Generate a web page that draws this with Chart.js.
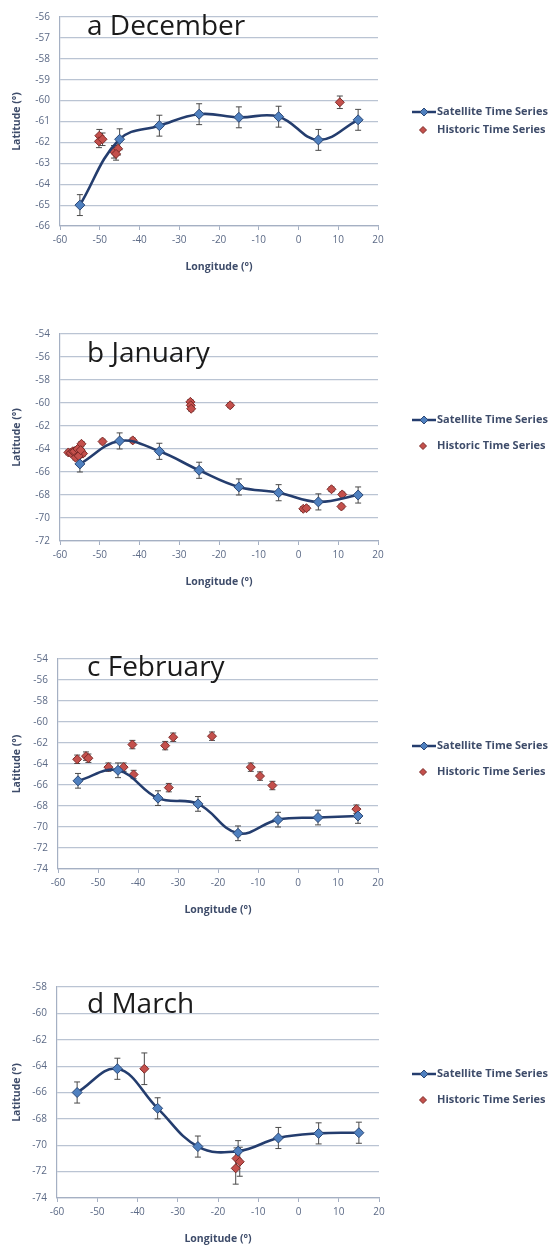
<!DOCTYPE html>
<html>
<head>
<meta charset="utf-8">
<script src="https://cdn.jsdelivr.net/npm/chart.js@4.4.1/dist/chart.umd.min.js"></script>
<style>
    html, body { margin: 0; padding: 0; background: #fff; overflow: hidden; }
    .panel { position: absolute; left: 0; width: 552px; }
</style>
</head>
<body>
<div class="panel" style="top:0px"><canvas id="decChart" width="552" height="276"></canvas></div>
<div class="panel" style="top:317px"><canvas id="janChart" width="552" height="274"></canvas></div>
<div class="panel" style="top:642px"><canvas id="febChart" width="552" height="277"></canvas></div>
<div class="panel" style="top:970px"><canvas id="marChart" width="552" height="278"></canvas></div>
<script>
// satellite longitudes are the same for every month
const satLon = [-55, -45, -35, -25, -15, -5, 5, 15];

// a December
const decSatLat = [-65.0, -61.85, -61.2, -60.65, -60.8, -60.77, -61.88, -60.92];
const decSatErr = [0.5, 0.5, 0.5, 0.5, 0.5, 0.5, 0.5, 0.5];
const decHistLon = [-50.1, -50.2, -49.3, -46.4, -45.4, -45.9, 10.4];
const decHistLat = [-61.68, -61.95, -61.85, -62.45, -62.3, -62.55, -60.08];
const decHistErr = [0.3, 0.3, 0.3, 0.3, 0.3, 0.3, 0.3];

// b January
const janSatLat = [-65.3, -63.3, -64.2, -65.85, -67.3, -67.8, -68.6, -68.0];
const janSatErr = [0.7, 0.7, 0.7, 0.7, 0.7, 0.7, 0.7, 0.7];
const janHistLon = [-57.9, -57.3, -56.8, -56.4, -55.6, -55.0, -54.6, -54.2, -56.1, -55.3, -54.8,
    -49.3, -41.7, -27.2, -27.1, -27.0, -17.2, 1.2, 2.0, 8.3, 11.0, 10.8];
const janHistLat = [-64.3, -64.35, -64.2, -64.2, -64.0, -64.5, -63.55, -64.4, -64.75, -64.6, -64.1,
    -63.35, -63.25, -59.9, -60.2, -60.5, -60.2, -69.2, -69.15, -67.5, -67.95, -69.0];
const janHistErr = janHistLon.map(() => 0.2);

// c February
const febSatLat = [-65.6, -64.6, -67.25, -67.8, -70.6, -69.3, -69.1, -68.95];
const febSatErr = [0.7, 0.7, 0.7, 0.7, 0.7, 0.7, 0.7, 0.7];
const febHistLon = [-55.2, -53.0, -52.4, -47.4, -43.6, -41.4, -41.1, -33.2, -31.2, -32.3, -21.5, -11.8, -9.5, -6.4, 14.6];
const febHistLat = [-63.55, -63.25, -63.45, -64.3, -64.3, -62.15, -65.0, -62.25, -61.45, -66.25, -61.35, -64.3, -65.15, -66.05, -68.3];
const febHistErr = febHistLon.map(() => 0.4);

// d March
const marSatLat = [-66.0, -64.2, -67.2, -70.1, -70.45, -69.45, -69.1, -69.05];
const marSatErr = [0.8, 0.8, 0.8, 0.8, 0.8, 0.8, 0.8, 0.8];
const marHistLon = [-38.3, -15.4, -14.6, -15.6];
const marHistLat = [-64.2, -71.0, -71.25, -71.75];
const marHistErr = [1.2, 0.8, 1.1, 1.2];

const lonTicks = { min: -60, max: 20, step: 10 };

Chart.defaults.font.family = '"Open Sans", sans-serif';

const tickColor = '#5c6a86';
const titleColor = '#3e4c6a';
const gridColor = '#bac4d3';
const axisColor = '#a5b0c3';

// vertical error bars, drawn under the markers
const errorBars = {
    id: 'errorBars',
    beforeDatasetsDraw(chart) {
        const { ctx, scales: { x, y } } = chart;
        ctx.save();
        ctx.strokeStyle = '#4a4a4a';
        ctx.lineWidth = 1;
        chart.data.datasets.forEach(ds => {
            if (!ds.errors) return;
            ds.data.forEach((p, i) => {
                const px = x.getPixelForValue(p.x);
                const top = y.getPixelForValue(p.y + ds.errors[i]);
                const bot = y.getPixelForValue(p.y - ds.errors[i]);
                ctx.beginPath();
                ctx.moveTo(px, top); ctx.lineTo(px, bot);
                ctx.moveTo(px - 3, top); ctx.lineTo(px + 3, top);
                ctx.moveTo(px - 3, bot); ctx.lineTo(px + 3, bot);
                ctx.stroke();
            });
        });
        ctx.restore();
    }
};

function diamond(ctx, cx, cy, r) {
    ctx.beginPath();
    ctx.moveTo(cx - r, cy);
    ctx.lineTo(cx, cy - r);
    ctx.lineTo(cx + r, cy);
    ctx.lineTo(cx, cy + r);
    ctx.closePath();
    ctx.fill();
    ctx.stroke();
}

// legend at the right side of each panel
const sideLegend = {
    id: 'sideLegend',
    afterDraw(chart, args, opts) {
        const ctx = chart.ctx;
        const [sat, hist] = chart.data.datasets;
        const [r1, r2] = opts.rows;
        ctx.save();
        ctx.strokeStyle = sat.borderColor;
        ctx.lineWidth = 2.5;
        ctx.beginPath();
        ctx.moveTo(412, r1); ctx.lineTo(436, r1);
        ctx.stroke();
        ctx.lineWidth = 1;
        ctx.fillStyle = sat.pointBackgroundColor;
        ctx.strokeStyle = sat.pointBorderColor;
        diamond(ctx, 424, r1, 4);
        ctx.fillStyle = hist.pointBackgroundColor;
        ctx.strokeStyle = hist.pointBorderColor;
        diamond(ctx, 423, r2, 3.5);
        ctx.font = 'bold 11px "Open Sans"';
        ctx.fillStyle = titleColor;
        ctx.textBaseline = 'middle';
        ctx.fillText(sat.label, 437, r1);
        ctx.fillText(hist.label, 437, r2);
        ctx.restore();
    }
};

// month label inside the plot
const panelTitle = {
    id: 'panelTitle',
    afterDraw(chart, args, opts) {
        const ctx = chart.ctx;
        ctx.save();
        ctx.font = '28px "Open Sans"';
        ctx.fillStyle = '#1b1b1b';
        ctx.textBaseline = 'alphabetic';
        ctx.fillText(opts.text, 87, opts.y);
        ctx.restore();
    }
};

function buildChart(canvasId, p) {
    const sat = satLon.map((lon, i) => ({ x: lon, y: p.satLat[i] }));
    const hist = p.histLon.map((lon, i) => ({ x: lon, y: p.histLat[i] }));

    return new Chart(document.getElementById(canvasId), {
        type: 'scatter',
        data: {
            datasets: [{
                label: 'Satellite Time Series',
                data: sat,
                errors: p.satErr,
                showLine: true,
                tension: 0.4,
                borderColor: '#243d6e',
                borderWidth: 2.6,
                pointStyle: 'rectRot',
                pointRadius: 5,
                pointBackgroundColor: '#4f80bf',
                pointBorderColor: '#2c4876',
                pointBorderWidth: 1
            }, {
                label: 'Historic Time Series',
                data: hist,
                errors: p.histErr,
                pointStyle: 'rectRot',
                pointRadius: 4.5,
                pointBackgroundColor: '#c4504c',
                pointBorderColor: '#7d2b29',
                pointBorderWidth: 1
            }]
        },
        options: {
            responsive: false,
            animation: false,
            layout: { padding: { left: 0, right: p.padRight, top: 17, bottom: 0 } },
            plugins: {
                legend: { display: false },
                tooltip: { enabled: false },
                sideLegend: { rows: p.legendRows },
                panelTitle: { text: p.title, y: p.titleY }
            },
            scales: {
                x: {
                    min: lonTicks.min,
                    max: lonTicks.max,
                    ticks: { stepSize: lonTicks.step, padding: 4, color: tickColor, font: { size: 10 } },
                    grid: { drawOnChartArea: false, drawTicks: true, tickLength: 4, color: axisColor },
                    border: { color: axisColor, width: 1.2 },
                    title: {
                        display: true, text: 'Longitude (°)', color: titleColor,
                        font: { size: 10.5, weight: 'bold' }, padding: { top: 0, bottom: 3 }
                    },
                    afterFit(s) { s.height = 50; }
                },
                y: {
                    min: p.yMin,
                    max: p.yMax,
                    ticks: { stepSize: p.yStep, padding: 10, color: tickColor, font: { size: 10 } },
                    grid: { color: gridColor, lineWidth: 1.2, drawTicks: false },
                    border: { color: axisColor, width: 1.2 },
                    title: {
                        display: true, text: 'Latitude (°)', color: titleColor,
                        font: { size: 10.5, weight: 'bold' }, padding: { top: 11, bottom: 0 }
                    },
                    afterFit(s) { s.width = p.left; }
                }
            }
        },
        plugins: [errorBars, sideLegend, panelTitle]
    });
}

buildChart('decChart', {
    title: 'a December', titleY: 35,
    satLat: decSatLat, satErr: decSatErr,
    histLon: decHistLon, histLat: decHistLat, histErr: decHistErr,
    yMin: -66, yMax: -56, yStep: 1,
    left: 60, padRight: 174, legendRows: [112, 130]
});

buildChart('janChart', {
    title: 'b January', titleY: 45,
    satLat: janSatLat, satErr: janSatErr,
    histLon: janHistLon, histLat: janHistLat, histErr: janHistErr,
    yMin: -72, yMax: -54, yStep: 2,
    left: 60, padRight: 174, legendRows: [103, 129]
});

buildChart('febChart', {
    title: 'c February', titleY: 34,
    satLat: febSatLat, satErr: febSatErr,
    histLon: febHistLon, histLat: febHistLat, histErr: febHistErr,
    yMin: -74, yMax: -54, yStep: 2,
    left: 58, padRight: 174, legendRows: [104, 130]
});

buildChart('marChart', {
    title: 'd March', titleY: 43,
    satLat: marSatLat, satErr: marSatErr,
    histLon: marHistLon, histLat: marHistLat, histErr: marHistErr,
    yMin: -74, yMax: -58, yStep: 2,
    left: 57, padRight: 173, legendRows: [104, 130]
});
</script>
</body>
</html>
